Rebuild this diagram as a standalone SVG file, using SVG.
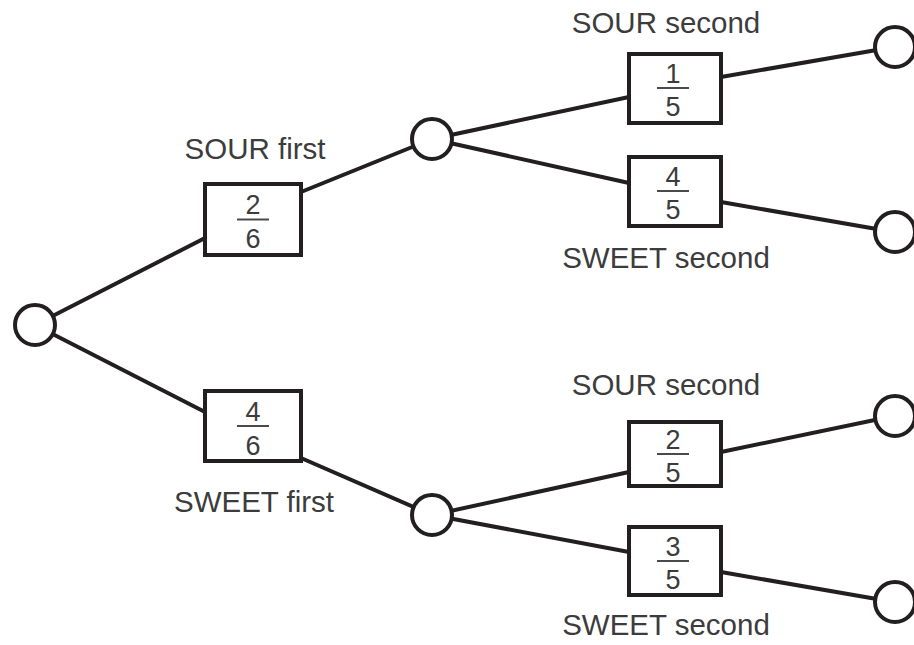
<svg xmlns="http://www.w3.org/2000/svg" width="914" height="645" viewBox="0 0 914 645">
<style>
.c{stroke:#231f20;stroke-width:4;fill:none;stroke-linecap:round}
.n{fill:#fff;stroke:#231f20;stroke-width:4}
.b{fill:#fff;stroke:#231f20;stroke-width:4}
.fl{stroke:#4a4a4a;stroke-width:2}
.t{font-family:"Liberation Sans",Arial,sans-serif;font-size:29.5px;fill:#3c3c3c;text-anchor:middle}
.d{font-family:"Liberation Sans",Arial,sans-serif;font-size:27px;fill:#3c3c3c;text-anchor:middle}
</style>
<rect width="914" height="645" fill="#fff"/>
<g id="connectors">
<line class="c" x1="35" y1="325" x2="205" y2="238"/>
<line class="c" x1="301" y1="192" x2="432" y2="139"/>
<line class="c" x1="432" y1="139" x2="629" y2="97"/>
<line class="c" x1="721" y1="77" x2="894" y2="47"/>
<line class="c" x1="432" y1="139" x2="629" y2="183"/>
<line class="c" x1="721" y1="202" x2="894" y2="232"/>
<line class="c" x1="35" y1="325" x2="205" y2="412"/>
<line class="c" x1="301" y1="458" x2="432" y2="515"/>
<line class="c" x1="432" y1="515" x2="629" y2="472"/>
<line class="c" x1="721" y1="452" x2="894" y2="416"/>
<line class="c" x1="432" y1="515" x2="629" y2="552"/>
<line class="c" x1="721" y1="572" x2="894" y2="602"/>
</g>
<g id="root"><circle class="n" cx="35" cy="325" r="20"/></g>
<g id="mid-sour"><circle class="n" cx="432" cy="139" r="20"/></g>
<g id="mid-sweet"><circle class="n" cx="432" cy="515" r="20"/></g>
<g id="leaf1"><circle class="n" cx="895" cy="47" r="20"/></g>
<g id="leaf2"><circle class="n" cx="895" cy="232" r="20"/></g>
<g id="leaf3"><circle class="n" cx="895" cy="416" r="20"/></g>
<g id="leaf4"><circle class="n" cx="895" cy="602" r="20"/></g>
<g id="box-sour-first">
<rect class="b" x="205" y="184" width="96" height="71"/>
<text class="d" x="253" y="214">2</text>
<line class="fl" x1="237" y1="219.5" x2="269" y2="219.5"/>
<text class="d" x="253" y="248">6</text>
<text class="t" x="255" y="159">SOUR first</text>
</g>
<g id="box-sweet-first">
<rect class="b" x="205" y="391" width="96" height="70"/>
<text class="d" x="253" y="421">4</text>
<line class="fl" x1="237" y1="426" x2="269" y2="426"/>
<text class="d" x="253" y="455">6</text>
<text class="t" x="254" y="512">SWEET first</text>
</g>
<g id="box-sour-sour">
<rect class="b" x="629" y="54" width="92" height="69"/>
<text class="d" x="673" y="83">1</text>
<line class="fl" x1="657" y1="88" x2="689" y2="88"/>
<text class="d" x="673" y="116">5</text>
<text class="t" x="666" y="33">SOUR second</text>
</g>
<g id="box-sour-sweet">
<rect class="b" x="629" y="157" width="92" height="69"/>
<text class="d" x="673" y="186">4</text>
<line class="fl" x1="657" y1="191" x2="689" y2="191"/>
<text class="d" x="673" y="219">5</text>
<text class="t" x="666" y="268">SWEET second</text>
</g>
<g id="box-sweet-sour">
<rect class="b" x="629" y="422" width="92" height="64"/>
<text class="d" x="673" y="449">2</text>
<line class="fl" x1="657" y1="454" x2="689" y2="454"/>
<text class="d" x="673" y="482">5</text>
<text class="t" x="666" y="395">SOUR second</text>
</g>
<g id="box-sweet-sweet">
<rect class="b" x="629" y="527" width="92" height="68"/>
<text class="d" x="673" y="556">3</text>
<line class="fl" x1="657" y1="561" x2="689" y2="561"/>
<text class="d" x="673" y="589">5</text>
<text class="t" x="666" y="635">SWEET second</text>
</g>
</svg>
